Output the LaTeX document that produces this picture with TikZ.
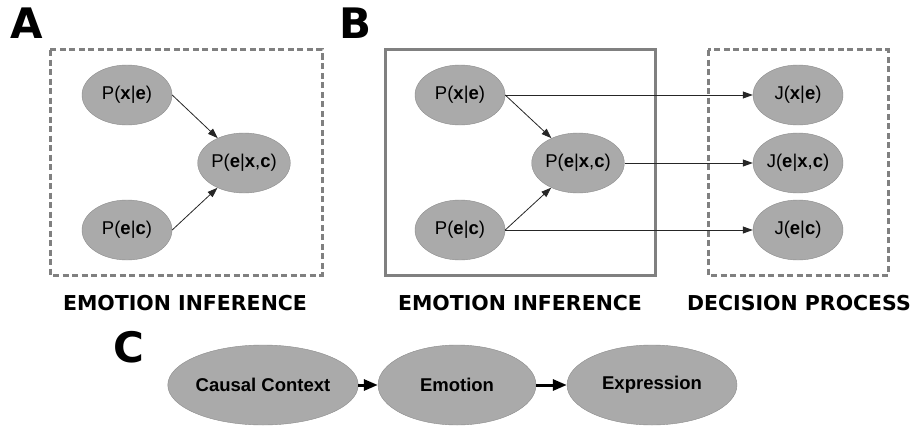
\documentclass[tikz,border=0pt]{standalone}
\usepackage{fontspec}
\setmainfont{Liberation Sans}
\newfontfamily\headfont{DejaVu Sans}
\usetikzlibrary{shapes.geometric,arrows.meta}
\definecolor{nodegray}{RGB}{170,170,170}
\definecolor{nodeline}{RGB}{140,140,140}
\definecolor{boxgray}{RGB}{128,128,128}
\tikzset{
  prob/.style = {ellipse, fill=nodegray, draw=nodeline, minimum width=90pt,
                 minimum height=60pt, inner sep=0pt,
                 font=\fontsize{18.5}{20}\selectfont},
  big/.style = {ellipse, fill=nodegray, draw=nodeline, minimum width=#1,
                minimum height=80pt, inner sep=0pt,
                font=\bfseries\fontsize{18.5}{20}\selectfont},
  big/.default = 150pt,
  arr/.style = {draw=black!85, line width=0.8pt, -{Triangle[length=10pt,width=7pt]}},
  fatarr/.style = {draw=black, line width=3pt, -{Triangle[length=14pt,width=11pt]}},
  plate/.style = {draw=boxgray, line width=3pt},
  title/.style = {font=\headfont\bfseries\fontsize{20.5}{24}\selectfont, anchor=base},
  panel/.style = {font=\headfont\bfseries\fontsize{42}{46}\selectfont,
                  inner sep=0pt, anchor=base west}
}

\begin{document}
\begin{tikzpicture}[x=1pt,y=-1pt]
	\useasboundingbox (0,0) rectangle (917,428);
	\def \top{95}
	\def \mid{163}
	\def \bot{230}

	% Panel A
	\node[panel] (labA) at (10,39) {A};
	\draw[plate, dash pattern=on 6pt off 3.5pt] (50,50) rectangle (322,275);
	\node[prob] (axe)  at (127,\top) {P(\textbf{x}|\textbf{e})};
	\node[prob] (aexc) at (244,\mid) {P(\textbf{e}|\textbf{x},\textbf{c})};
	\node[prob] (aec)  at (127,\bot) {P(\textbf{e}|\textbf{c})};
	\draw[arr] (axe.east) -- (aexc);
	\draw[arr] (aec.east) -- (aexc);
	\node[title] (tA) at (185,310) {EMOTION INFERENCE};

	% Panel B
	\node[panel] (labB) at (339,39) {B};
	\draw[plate] (385,50) rectangle (655,275);
	\draw[plate, dash pattern=on 6pt off 3.5pt] (708,50) rectangle (888,275);
	\node[prob] (bxe)  at (460,\top) {P(\textbf{x}|\textbf{e})};
	\node[prob] (bexc) at (578,\mid) {P(\textbf{e}|\textbf{x},\textbf{c})};
	\node[prob] (bec)  at (460,\bot) {P(\textbf{e}|\textbf{c})};
	\node[prob] (jxe)  at (798,\top) {J(\textbf{x}|\textbf{e})};
	\node[prob] (jexc) at (798,\mid) {J(\textbf{e}|\textbf{x},\textbf{c})};
	\node[prob] (jec)  at (798,\bot) {J(\textbf{e}|\textbf{c})};
	\draw[arr] (bxe.east) -- (bexc);
	\draw[arr] (bec.east) -- (bexc);
	\draw[arr] (bxe.east) -- (jxe.west);
	\draw[arr] (bexc.east) -- (jexc.west);
	\draw[arr] (bec.east) -- (jec.west);
	\node[title] (tB) at (520,310) {EMOTION INFERENCE};
	\node[title] (tD) at (799,310) {DECISION PROCESS};

	% Panel C
	\node[panel] (labC) at (113,362) {C};
	\node[big=150pt] (cause) at (263,385) {Causal Context};
	\node[big=158pt] (emo)   at (457,385) {Emotion};
	\node[big=170pt] (expr)  at (652,385) {Expression};
	\draw[fatarr] (cause) -- (emo);
	\draw[fatarr] (emo) -- (expr);
\end{tikzpicture}
\end{document}
